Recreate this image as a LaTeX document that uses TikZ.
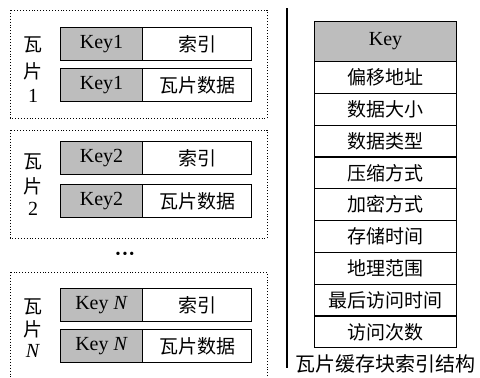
\documentclass[tikz,border=0pt]{standalone}
\usepackage{fontspec}
\setmainfont{Liberation Serif}
\newfontfamily\cjk{Noto Sans CJK SC}
\begin{document}
\begin{tikzpicture}[x=1pt,y=-1pt,
  txt/.style={font=\fontsize{20}{20}\selectfont},
  keycell/.style={draw,line width=1.1pt,fill=gray!52,anchor=north west,minimum width=82pt,minimum height=33pt,inner sep=0pt,txt},
  valcell/.style={draw,line width=1.1pt,fill=white,anchor=north west,minimum width=109pt,minimum height=33pt,inner sep=0pt,txt},
  tilebox/.style={draw,dotted,line width=0.9pt},
  tcell/.style={draw,line width=1.1pt,fill=white,anchor=north west,minimum width=142pt,minimum height=31.8pt,inner sep=0pt,txt},
  side/.style={txt,inner sep=0pt}]
\useasboundingbox (0,0) rectangle (480,378);
% tile boxes
\draw[tilebox] (10,10) rectangle (267,118);
\draw[tilebox] (10,130) rectangle (267,238);
\draw[tilebox] (10,272) rectangle (267,400);
% tile 1
\node[keycell] (k1a) at (60,27) {Key1};
\node[valcell] (v1a) at (142,27) {\cjk\fontsize{19}{19}\selectfont 索引};
\node[keycell] (k1b) at (60,68) {Key1};
\node[valcell] (v1b) at (142,68) {\cjk\fontsize{19}{19}\selectfont 瓦片数据};
\node[side] (s1a) at (33,45) {\cjk\fontsize{19}{19}\selectfont 瓦};
\node[side] (s1b) at (33,71) {\cjk\fontsize{19}{19}\selectfont 片};
\node[side] (s1c) at (33,96) {1};
% tile 2
\node[keycell] (k2a) at (60,141) {Key2};
\node[valcell] (v2a) at (142,141) {\cjk\fontsize{19}{19}\selectfont 索引};
\node[keycell] (k2b) at (60,184) {Key2};
\node[valcell] (v2b) at (142,184) {\cjk\fontsize{19}{19}\selectfont 瓦片数据};
\node[side] (s2a) at (33,162) {\cjk\fontsize{19}{19}\selectfont 瓦};
\node[side] (s2b) at (33,186) {\cjk\fontsize{19}{19}\selectfont 片};
\node[side] (s2c) at (33,209) {2};
% dots
\node[inner sep=0pt] (dots) at (125,255) {\fontsize{14}{14}\selectfont\textbullet\kern2pt\textbullet\kern2pt\textbullet};
% tile N
\node[keycell] (kna) at (60,288) {Key \textit{N}};
\node[valcell] (vna) at (142,288) {\cjk\fontsize{19}{19}\selectfont 索引};
\node[keycell] (knb) at (60,329) {Key \textit{N}};
\node[valcell] (vnb) at (142,329) {\cjk\fontsize{19}{19}\selectfont 瓦片数据};
\node[side] (sna) at (33,307) {\cjk\fontsize{19}{19}\selectfont 瓦};
\node[side] (snb) at (33,329) {\cjk\fontsize{19}{19}\selectfont 片};
\node[side] (snc) at (33,351) {\textit{N}};
% separator
\coordinate (lt) at (287,8);
\coordinate (lb) at (287,368);
\draw[line width=2pt] (lt) -- (lb);
% right table
\tikzset{tc/.style={tcell,font=\cjk\fontsize{19}{19}\selectfont}}
\node[tcell,fill=gray!52,minimum height=40pt] (t0) at (314,21) {Key};
\node[tc] (t1) at (314,61) {偏移地址};
\node[tc] (t2) at (314,92.8) {数据大小};
\node[tc] (t3) at (314,124.6) {数据类型};
\node[tc] (t4) at (314,156.4) {压缩方式};
\node[tc] (t5) at (314,188.2) {加密方式};
\node[tc] (t6) at (314,220) {存储时间};
\node[tc] (t7) at (314,251.8) {地理范围};
\node[tc] (t8) at (314,283.6) {最后访问时间};
\node[tc] (t9) at (314,315.4) {访问次数};
\node[inner sep=0pt,font=\cjk\fontsize{20}{20}\selectfont] (cap) at (385,364) {瓦片缓存块索引结构};
\end{tikzpicture}
\end{document}
